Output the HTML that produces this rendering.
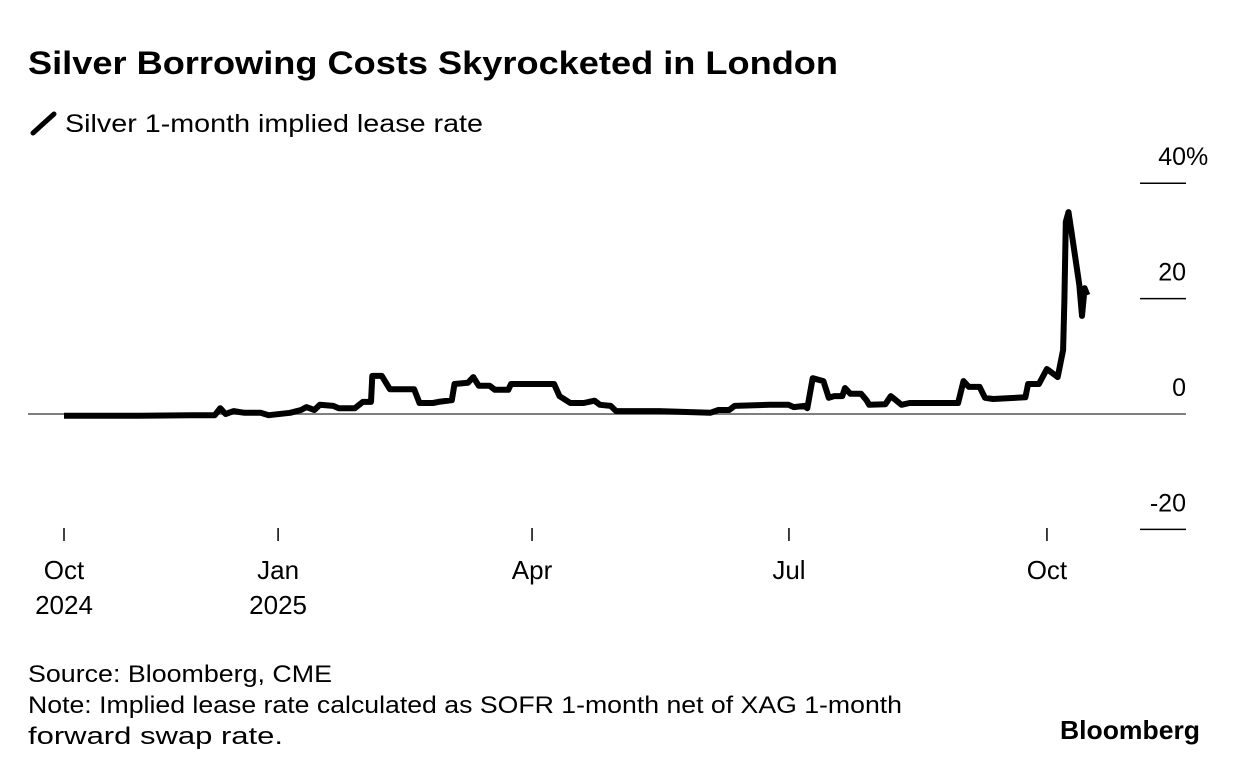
<!DOCTYPE html>
<html><head><meta charset="utf-8"><style>
body{margin:0;background:#fff;font-family:"Liberation Sans",sans-serif;}
svg text{font-family:"Liberation Sans",sans-serif;fill:#000;}
</style></head><body>
<svg width="1240" height="774">
<text x="28" y="74" font-size="32" font-weight="bold" textLength="810" lengthAdjust="spacingAndGlyphs">Silver Borrowing Costs Skyrocketed in London</text>
<g>
<line x1="33" y1="133" x2="54" y2="114" stroke="#000" stroke-width="5" stroke-linecap="round"/>
<text x="65" y="132" font-size="25" textLength="418" lengthAdjust="spacingAndGlyphs">Silver 1-month implied lease rate</text>
</g>
<g id="axes"></g>
<path id="line" fill="none" stroke="#000" stroke-width="6" stroke-linejoin="round"/>
<text x="28" y="682" font-size="24" textLength="304" lengthAdjust="spacingAndGlyphs">Source: Bloomberg, CME</text>
<text x="28" y="713" font-size="24" textLength="874" lengthAdjust="spacingAndGlyphs">Note: Implied lease rate calculated as SOFR 1-month net of XAG 1-month</text>
<text x="28" y="744" font-size="24" textLength="255" lengthAdjust="spacingAndGlyphs">forward swap rate.</text>
<text x="1060" y="739" font-size="26" font-weight="bold" textLength="140" lengthAdjust="spacingAndGlyphs">Bloomberg</text>
</svg>
<script>
const days=[0,28,47,56,58,60,63,67,73,76,84,88,90,93,95,100,102,108,111,114,114.5,118,121,130,132,137,139,144,145,150,152,154,158,160,165,166,182,184,188,193,197,199,203,205,221,240,243,247,249,262,269,271,275,276,278,282,284,286,289,290,292,296,298,299,305,307,311,314,332,334,336,340,342,345,357,358,362,365,369,371,371.5,372,373,374,377,378,379,380];
const values=[-0.3,-0.3,-0.2,-0.2,1.0,0,0.5,0.2,0.2,-0.2,0.2,0.7,1.2,0.7,1.6,1.4,1.0,1.0,2.1,2.1,6.6,6.6,4.3,4.3,1.9,1.9,2.1,2.4,5.2,5.4,6.4,4.9,4.9,4.2,4.2,5.2,5.2,3.1,1.9,1.9,2.3,1.6,1.4,0.5,0.5,0.2,0.7,0.7,1.4,1.6,1.6,1.2,1.4,1.0,6.2,5.7,2.8,3.1,3.1,4.5,3.5,3.5,2.4,1.6,1.7,3.1,1.6,1.9,1.9,5.7,4.7,4.7,2.8,2.6,2.9,5.2,5.2,7.8,6.4,11.1,19.8,33.3,35,31.9,22.4,17,21.8,20.6];
const yTicks=[40,20,0,-20];
const yTickLabels=["40","20","0","-20"];
const xTickDays=[0,79.5,173.8,269.2,365];
const xTickLabels=[["Oct","2024"],["Jan","2025"],["Apr"],["Jul"],["Oct"]];
const X=d=>64+d*2.693;
const Y=v=>414-v*5.77;
const NS="http://www.w3.org/2000/svg";
const ax=document.getElementById('axes');
function mk(t,a,p){const e=document.createElementNS(NS,t);for(const k in a)e.setAttribute(k,a[k]);p.appendChild(e);return e;}
yTicks.forEach((v,i)=>{
 if(v===0){const z=mk('line',{x1:28,x2:1186,y1:Y(0),y2:Y(0),stroke:'#555','stroke-width':1.5},ax);
 
 }
 else{const l=mk('line',{x1:1140,x2:1186,y1:Y(v),y2:Y(v),stroke:'#000','stroke-width':1.5},ax);
 
 }
 const t=mk('text',{x:1186,y:Y(v)-18,'font-size':25,'text-anchor':'end'},ax);
 t.textContent=yTickLabels[i];
 
 
 if(i===0){const p=mk('text',{x:1186,y:Y(v)-18,'font-size':25},ax);
 p.textContent='%';
 
 }
});
xTickDays.forEach((d,i)=>{
 const l=mk('line',{x1:X(d),x2:X(d),y1:528,y2:541,stroke:'#000','stroke-width':1.5},ax);
 
 
 xTickLabels[i].forEach((s,j)=>{
  const t=mk('text',{x:X(d),y:579+j*35,'font-size':26,'text-anchor':'middle'},ax);
  t.textContent=s;
  
  
 });
});
document.getElementById('line').setAttribute('d',days.map((d,i)=>(i?'L':'M')+X(d).toFixed(1)+' '+Y(values[i]).toFixed(1)).join(' '));
</script>
</body></html>
